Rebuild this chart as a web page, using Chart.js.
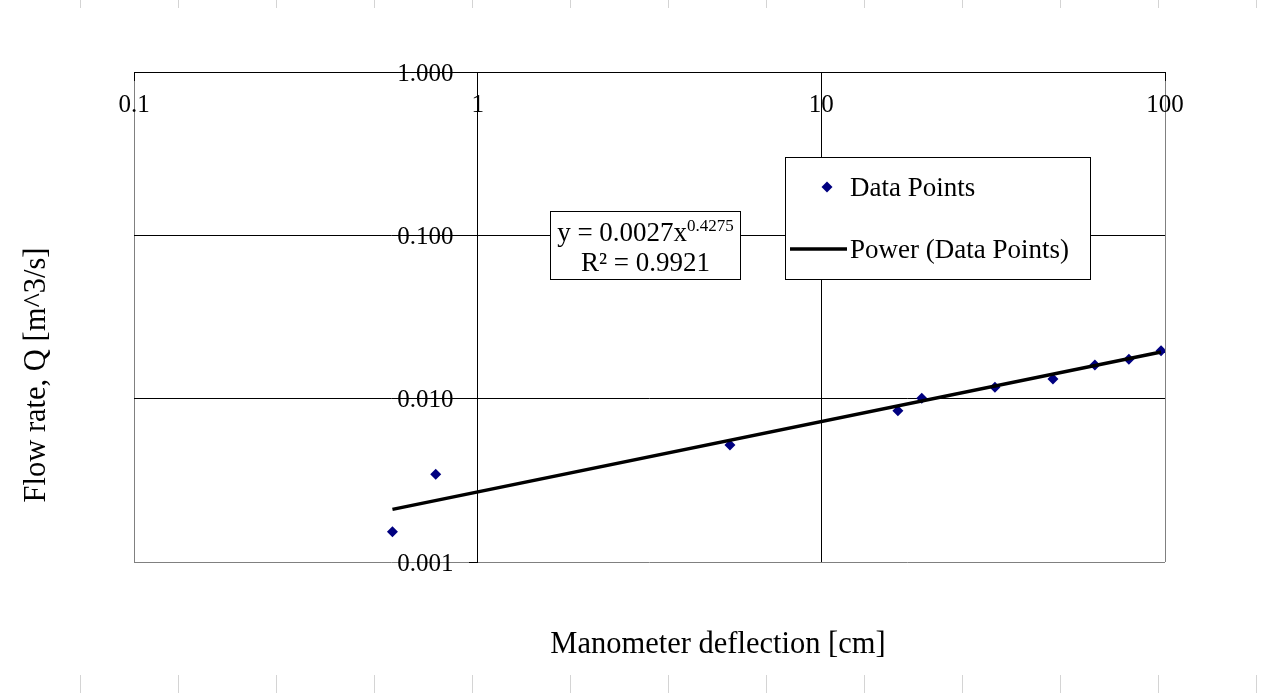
<!DOCTYPE html>
<html>
<head>
<meta charset="utf-8">
<script src="https://cdn.jsdelivr.net/npm/chart.js@4.4.1/dist/chart.umd.min.js"></script>
<style>
html, body { margin: 0; padding: 0; background: #fff; }
</style>
</head>
<body>
<canvas id="chart" width="1280" height="693"></canvas>
<script>
// data
const deflection = [0.565, 0.755, 5.42, 16.7, 19.6, 32.0, 47.2, 62.5, 78.5, 97.4];
const flowRate = [0.00153, 0.00344, 0.0052, 0.00844, 0.01005, 0.01174, 0.01319, 0.01608, 0.01742, 0.01966];

// power trendline end points
const trendX = [0.565, 97.4];
const trendY = [0.0021, 0.0193];

const xTicks = [0.1, 1, 10, 100];
const xTickLabels = ['0.1', '1', '10', '100'];
const yTicks = [0.001, 0.01, 0.1, 1];
const yTickLabels = ['0.001', '0.010', '0.100', '1.000'];

const serif = "'Liberation Serif', 'Times New Roman', serif";
const grey = '#808080';

// equation box, legend, axis titles, page marks
const overlay = {
    id: 'overlay',
    beforeDraw(chart) {
        const ctx = chart.ctx;
        ctx.save();
        ctx.strokeStyle = '#d4d4d4';
        ctx.lineWidth = 1;
        for (let x = 80.5; x < 1280; x += 98) {
            ctx.beginPath();
            ctx.moveTo(x, 0); ctx.lineTo(x, 8);
            ctx.moveTo(x, 675); ctx.lineTo(x, 693);
            ctx.stroke();
        }
        ctx.restore();
    },
    afterDraw(chart) {
        const ctx = chart.ctx;
        ctx.save();

        // trendline equation
        ctx.fillStyle = '#fff';
        ctx.fillRect(550.5, 211.5, 190, 68);
        ctx.strokeStyle = '#000';
        ctx.lineWidth = 1;
        ctx.strokeRect(550.5, 211.5, 190, 68);
        ctx.fillStyle = '#000';
        ctx.textBaseline = 'alphabetic';
        ctx.font = '27px ' + serif;
        const base = 'y = 0.0027x';
        const wBase = ctx.measureText(base).width;
        ctx.font = '17px ' + serif;
        const sup = '0.4275';
        const wSup = ctx.measureText(sup).width;
        let sx = 645.5 - (wBase + wSup) / 2;
        ctx.font = '27px ' + serif;
        ctx.textAlign = 'left';
        ctx.fillText(base, sx, 241);
        ctx.font = '17px ' + serif;
        ctx.fillText(sup, sx + wBase, 231);
        ctx.font = '27px ' + serif;
        ctx.textAlign = 'center';
        ctx.fillText('R\u00B2 = 0.9921', 645.5, 271);

        // legend
        ctx.fillStyle = '#fff';
        ctx.fillRect(785.5, 157.5, 305, 122);
        ctx.strokeRect(785.5, 157.5, 305, 122);
        const ds = chart.data.datasets;
        ctx.fillStyle = ds[0].backgroundColor;
        ctx.beginPath();
        ctx.moveTo(827, 181.5); ctx.lineTo(832.5, 187); ctx.lineTo(827, 192.5); ctx.lineTo(821.5, 187);
        ctx.closePath();
        ctx.fill();
        ctx.strokeStyle = ds[1].borderColor;
        ctx.lineWidth = ds[1].borderWidth;
        ctx.beginPath();
        ctx.moveTo(790, 249); ctx.lineTo(847, 249);
        ctx.stroke();
        ctx.fillStyle = '#000';
        ctx.font = '27px ' + serif;
        ctx.textAlign = 'left';
        ctx.textBaseline = 'middle';
        ctx.fillText(ds[0].label, 850, 189);
        ctx.fillText(ds[1].label, 850, 251);

        // axis titles
        ctx.font = '30.5px ' + serif;
        ctx.textAlign = 'center';
        ctx.textBaseline = 'alphabetic';
        ctx.fillText('Manometer deflection [cm]', 718, 653);
        ctx.translate(37, 375);
        ctx.rotate(-Math.PI / 2);
        ctx.textBaseline = 'middle';
        ctx.fillText('Flow rate, Q [m^3/s]', 0, 0);

        ctx.restore();
    }
};

const tickFont = {family: serif, size: 25};

const ctx = document.getElementById('chart').getContext('2d');
new Chart(ctx, {
    type: 'scatter',
    data: {
        datasets: [{
            label: 'Data Points',
            data: deflection.map((x, i) => ({x: x, y: flowRate[i]})),
            pointStyle: 'rectRot',
            pointRadius: 5.5,
            pointHoverRadius: 5.5,
            backgroundColor: '#000080',
            borderColor: '#000080',
            borderWidth: 0,
            order: 2
        }, {
            label: 'Power (Data Points)',
            data: trendX.map((x, i) => ({x: x, y: trendY[i]})),
            showLine: true,
            pointRadius: 0,
            borderColor: '#000',
            borderWidth: 3.5,
            order: 1
        }]
    },
    options: {
        responsive: false,
        animation: false,
        devicePixelRatio: 1,
        layout: {
            padding: {left: 134, right: 115, top: 72, bottom: 131}
        },
        plugins: {
            legend: {display: false},
            tooltip: {enabled: false}
        },
        scales: {
            x: {
                type: 'logarithmic',
                min: 0.1,
                max: 100,
                position: {y: 1},
                afterFit: scale => { scale.height = 0; },
                afterBuildTicks: axis => { axis.ticks = xTicks.map(v => ({value: v})); },
                ticks: {
                    callback: (v, i) => xTickLabels[i],
                    autoSkip: false,
                    maxRotation: 0,
                    padding: 10,
                    color: '#000',
                    font: tickFont
                },
                grid: {
                    color: c => (c.tick && (c.tick.value === 0.1 || c.tick.value === 100)) ? grey : '#000',
                    tickColor: '#000',
                    tickLength: 8,
                    lineWidth: 1
                },
                border: {color: '#000', width: 1}
            },
            y: {
                type: 'logarithmic',
                min: 0.001,
                max: 1,
                position: {x: 1},
                afterFit: scale => { scale.width = 0; },
                afterBuildTicks: axis => { axis.ticks = yTicks.map(v => ({value: v})); },
                ticks: {display: false},
                grid: {
                    color: c => (c.tick && c.tick.value === 0.001) ? grey : '#000',
                    tickColor: '#000',
                    tickLength: 8,
                    lineWidth: 1
                },
                border: {color: '#000', width: 1}
            },
            // labels of the y axis, set a little left of the axis line
            yLabels: {
                axis: 'y',
                type: 'logarithmic',
                min: 0.001,
                max: 1,
                position: {x: 0.85},
                afterFit: scale => { scale.width = 0; },
                afterBuildTicks: axis => { axis.ticks = yTicks.map(v => ({value: v})); },
                ticks: {
                    callback: (v, i) => yTickLabels[i],
                    autoSkip: false,
                    labelOffset: 2,
                    color: '#000',
                    font: tickFont
                },
                grid: {display: false},
                border: {display: false}
            }
        }
    },
    plugins: [overlay]
});
</script>
</body>
</html>
